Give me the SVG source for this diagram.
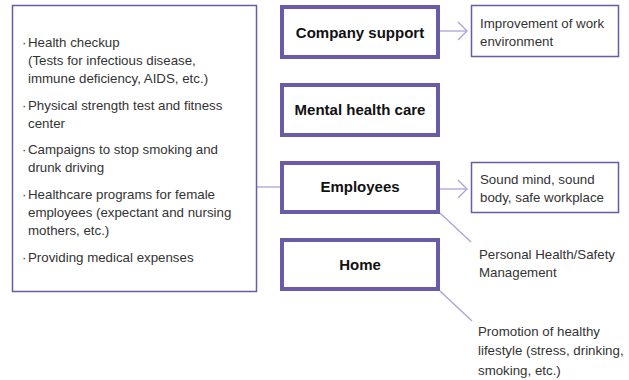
<svg xmlns="http://www.w3.org/2000/svg" width="629" height="380" viewBox="0 0 629 380">
<defs>
<style>
.t{font-family:"Liberation Sans",Arial,sans-serif;font-size:13.3px;fill:#333}
.b{font-family:"Liberation Sans",Arial,sans-serif;font-size:15px;font-weight:bold;fill:#111;text-anchor:middle}
.thin{fill:#fff;stroke:#6a5aa8;stroke-width:1.5}
.thick{fill:#fff;stroke:#6a5aa8;stroke-width:4}
.c{fill:none;stroke:#aaa2d8;stroke-width:1.3}
</style>
<marker id="ah" markerWidth="12" markerHeight="20" refX="10" refY="10" viewBox="0 0 12 20" markerUnits="userSpaceOnUse" orient="auto">
<path d="M1,1 L10,10 L1,19" fill="none" stroke="#aaa2d8" stroke-width="1.3"/>
</marker>
</defs>
<rect width="629" height="380" fill="#fff"/>
<g id="connectors">
<line class="c" x1="257" y1="187" x2="280" y2="187"/>
<line class="c" x1="440" y1="31" x2="467" y2="31" marker-end="url(#ah)"/>
<line class="c" x1="440" y1="189" x2="467" y2="189" marker-end="url(#ah)"/>
<line class="c" x1="440" y1="213" x2="471" y2="242"/>
<line class="c" x1="440" y1="291" x2="472" y2="321"/>
</g>
<g id="list">
<rect class="thin" x="12.5" y="5.5" width="244" height="286"/>
<text class="t" x="22" y="46.5">·</text><text class="t" x="28" y="46.5">Health checkup</text>
<text class="t" x="28" y="64.5">(Tests for infectious disease,</text>
<text class="t" x="28" y="82.5">immune deficiency, AIDS, etc.)</text>
<text class="t" x="22" y="109.5">·</text><text class="t" x="28" y="109.5">Physical strength test and fitness</text>
<text class="t" x="28" y="127.5">center</text>
<text class="t" x="22" y="153.5">·</text><text class="t" x="28" y="153.5">Campaigns to stop smoking and</text>
<text class="t" x="28" y="171.5">drunk driving</text>
<text class="t" x="22" y="198.5">·</text><text class="t" x="28" y="198.5">Healthcare programs for female</text>
<text class="t" x="28" y="216.5">employees (expectant and nursing</text>
<text class="t" x="28" y="234.5">mothers, etc.)</text>
<text class="t" x="22" y="261.5">·</text><text class="t" x="28" y="261.5">Providing medical expenses</text>
</g>
<g id="company">
<rect class="thick" x="282" y="7" width="156" height="50"/>
<text class="b" x="360" y="38">Company support</text>
</g>
<g id="mental">
<rect class="thick" x="282" y="85" width="156" height="50"/>
<text class="b" x="360" y="115">Mental health care</text>
</g>
<g id="employees">
<rect class="thick" x="282" y="163" width="156" height="49"/>
<text class="b" x="360" y="192">Employees</text>
</g>
<g id="home">
<rect class="thick" x="282" y="240" width="156" height="49"/>
<text class="b" x="360" y="270">Home</text>
</g>
<g id="improvement">
<rect class="thin" x="471.5" y="5.5" width="147" height="51"/>
<text class="t" x="480" y="27.5">Improvement of work</text>
<text class="t" x="480" y="45.5">environment</text>
</g>
<g id="sound">
<rect class="thin" x="471.5" y="162.5" width="147" height="50"/>
<text class="t" x="480" y="183.5">Sound mind, sound</text>
<text class="t" x="480" y="201.5">body, safe workplace</text>
</g>
<g id="personal">
<text class="t" x="479" y="258.5">Personal Health/Safety</text>
<text class="t" x="479" y="276.5">Management</text>
</g>
<g id="promotion">
<text class="t" x="478" y="335.5">Promotion of healthy</text>
<text class="t" x="478" y="355">lifestyle (stress, drinking,</text>
<text class="t" x="478" y="374.5">smoking, etc.)</text>
</g>
</svg>
